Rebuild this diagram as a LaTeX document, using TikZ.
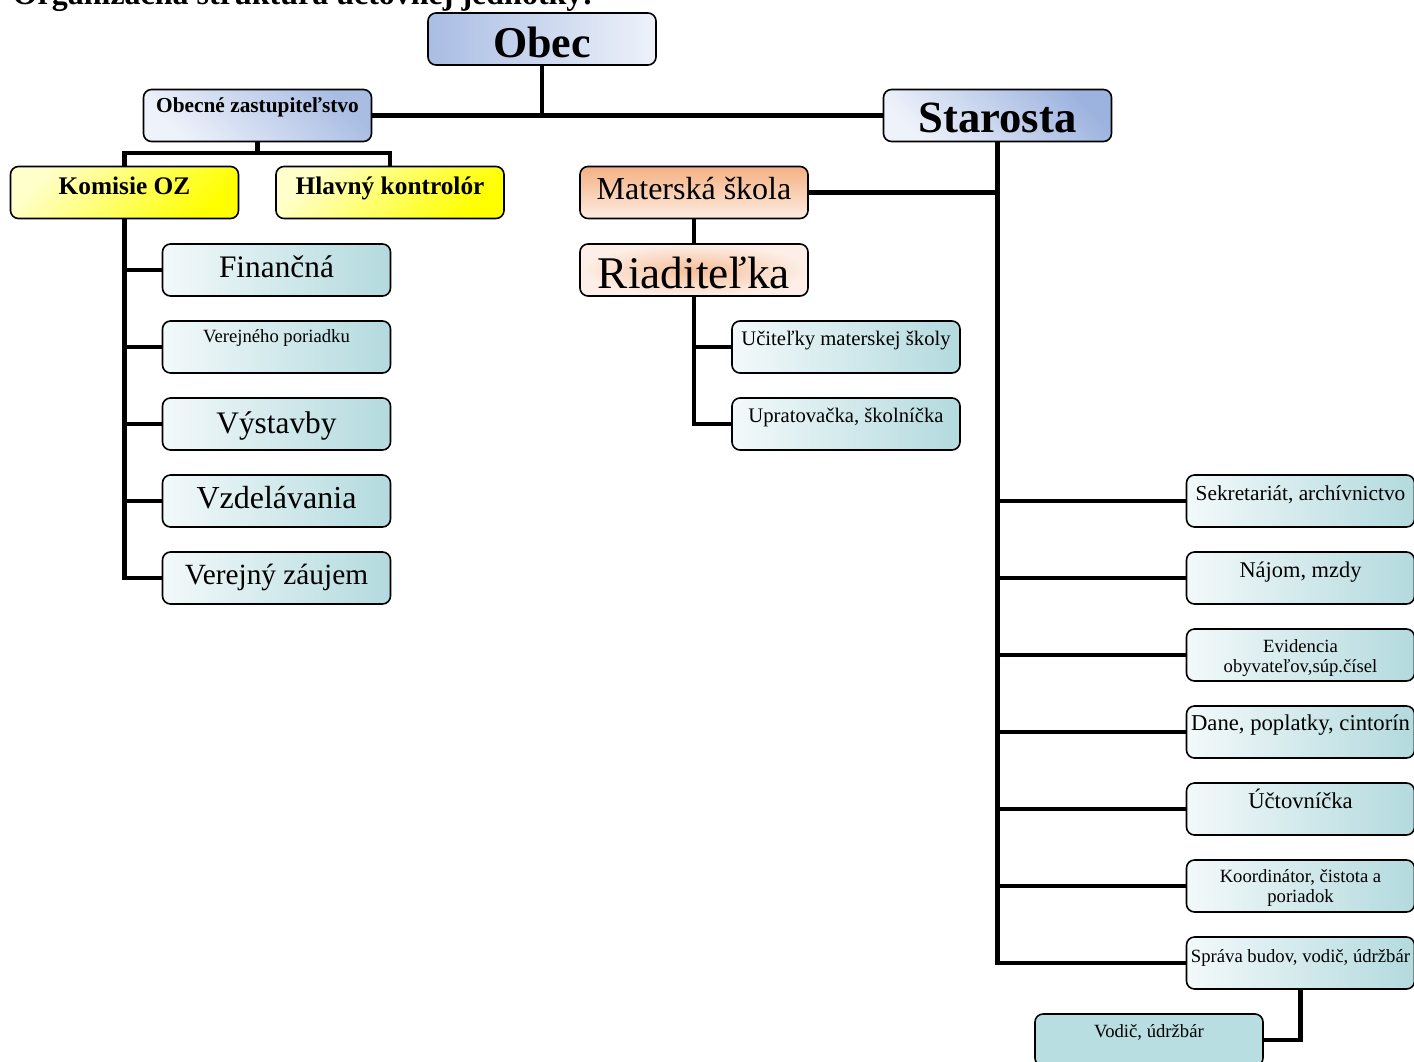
\documentclass[tikz,border=0pt]{standalone}
\usepackage{fontspec}
\setmainfont{Liberation Serif}

\definecolor{ObecDark}{HTML}{A9BDE3}
\definecolor{ObecLight}{HTML}{EEF2FA}
\definecolor{StaDark}{HTML}{9DB3DF}
\definecolor{KomLight}{HTML}{FFFFCC}
\definecolor{KomDark}{HTML}{FFFF00}
\definecolor{MsTop}{HTML}{F4B183}
\definecolor{MsBottom}{HTML}{FDECE1}
\definecolor{RiaInner}{HTML}{F6BF99}
\definecolor{RiaOuter}{HTML}{FDEFE7}
\definecolor{TealLight}{HTML}{F3F9FA}
\definecolor{TealDark}{HTML}{B3DADE}
\definecolor{TealFlat}{HTML}{B9DEE1}

\begin{document}
\begin{tikzpicture}[x=0.75pt, y=-0.75pt]
    \useasboundingbox (0,0) rectangle (1414,1061);
    \tikzset{BoxStyle/.style={draw, line width=1.2pt, rounded corners=6pt,
                              minimum width=171pt, minimum height=39pt, inner sep=0pt},
             TextLine/.style={text height=#1*0.75pt, text depth=(52-#1)*0.75pt},
             LinkStyle/.style={line width=3.6pt}}

    \node[anchor=base west, font=\fontsize{24}{28}\selectfont\bfseries] (title) at (8,4)
        {Organizačná štruktúra účtovnej jednotky:};

    \tikzset{BoxStyle/.append style={left color=ObecDark, right color=ObecLight}}
    \node[BoxStyle, TextLine=44, font=\fontsize{33}{36}\selectfont\bfseries] (obec) at (542,39) {Obec};
    \node[BoxStyle, TextLine=23, font=\fontsize{16}{18}\selectfont\bfseries,
          top color=ObecDark, bottom color=ObecLight, shading angle=-45] (oz) at (257.5,115.5) {Obecné zastupiteľstvo};
    \node[BoxStyle, TextLine=43, font=\fontsize{33.5}{36}\selectfont\bfseries,
          top color=StaDark, bottom color=ObecLight, shading angle=-45] (sta) at (997.5,115.5) {Starosta};

    \tikzset{BoxStyle/.append style={top color=KomLight, bottom color=KomDark, shading angle=45}}
    \node[BoxStyle, TextLine=28, font=\fontsize{19}{22}\selectfont\bfseries] (kom) at (124.5,192.5) {Komisie OZ};
    \node[BoxStyle, TextLine=28, font=\fontsize{19}{22}\selectfont\bfseries] (hk) at (390,192.5) {Hlavný kontrolór};

    \tikzset{BoxStyle/.append style={top color=MsTop, bottom color=MsBottom}}
    \node[BoxStyle, TextLine=33, font=\fontsize{24}{27}\selectfont] (ms) at (694,192.5) {Materská škola};
    \tikzset{BoxStyle/.append style={shading=radial, inner color=RiaInner, outer color=RiaOuter}}
    \node[BoxStyle, TextLine=44, font=\fontsize{34}{37}\selectfont] (ria) at (694,270) {Riaditeľka};

    \tikzset{BoxStyle/.append style={left color=TealLight, right color=TealDark}}
    \node[BoxStyle, TextLine=24, font=\fontsize{15.5}{18}\selectfont] (uc) at (846,347) {Učiteľky materskej školy};
    \node[BoxStyle, TextLine=24, font=\fontsize{15.5}{18}\selectfont] (up) at (846,424) {Upratovačka, školníčka};

    % komisie
    \node[BoxStyle, TextLine=33, font=\fontsize{23.5}{26}\selectfont] (fin) at (276.5,270) {Finančná};
    \node[BoxStyle, TextLine=21, font=\fontsize{14}{16}\selectfont] (vp) at (276.5,347) {Verejného poriadku};
    \node[BoxStyle, TextLine=35, font=\fontsize{23.5}{26}\selectfont] (vys) at (276.5,424) {Výstavby};
    \node[BoxStyle, TextLine=33, font=\fontsize{24}{27}\selectfont] (vzd) at (276.5,501) {Vzdelávania};
    \node[BoxStyle, TextLine=32, font=\fontsize{22}{25}\selectfont] (vz) at (276.5,578) {Verejný záujem};

    % urad
    \node[BoxStyle, TextLine=25, font=\fontsize{16}{18}\selectfont] (sek) at (1300.5,501) {Sekretariát, archívnictvo};
    \node[BoxStyle, TextLine=25, font=\fontsize{16.8}{19}\selectfont] (naj) at (1300.5,578) {Nájom, mzdy};
    \node[BoxStyle, TextLine=43, font=\fontsize{14}{15}\selectfont, align=center] (evi) at (1300.5,655)
        {Evidencia\\obyvateľov,súp.čísel};
    \node[BoxStyle, TextLine=24, font=\fontsize{17}{19}\selectfont] (dan) at (1300.5,732) {Dane, poplatky, cintorín};
    \node[BoxStyle, TextLine=25, font=\fontsize{17}{19}\selectfont] (uct) at (1300.5,809) {Účtovníčka};
    \node[BoxStyle, TextLine=42, font=\fontsize{14}{15}\selectfont, align=center] (koo) at (1300.5,886)
        {Koordinátor, čistota a\\poriadok};
    \node[BoxStyle, TextLine=25, font=\fontsize{14}{16}\selectfont] (spr) at (1300.5,963) {Správa budov, vodič, údržbár};
    \node[BoxStyle, TextLine=23, font=\fontsize{14}{16}\selectfont,
          left color=TealFlat, right color=TealFlat] (vod) at (1149,1040) {Vodič, údržbár};

    \coordinate (ozj) at (257.5,153);

    \draw[LinkStyle] (obec) -- (obec |- oz.east);
    \draw[LinkStyle] (oz.east) -- (sta.west);
    \draw[LinkStyle] (oz.south) -- (ozj);
    \draw[LinkStyle] (kom.north) |- (ozj) -| (hk.north);
    \foreach \k in {fin,vp,vys,vzd,vz}
        \draw[LinkStyle] (kom.south) |- (\k.west);
    \draw[LinkStyle] (sta.south) |- (ms.east);
    \foreach \k in {sek,naj,evi,dan,uct,koo,spr}
        \draw[LinkStyle] (sta.south) |- (\k.west);
    \draw[LinkStyle] (ms.south) -- (ria.north);
    \draw[LinkStyle] (ria.south) |- (uc.west);
    \draw[LinkStyle] (ria.south) |- (up.west);
    \draw[LinkStyle] (spr.south) |- (vod.east);
\end{tikzpicture}
\end{document}
